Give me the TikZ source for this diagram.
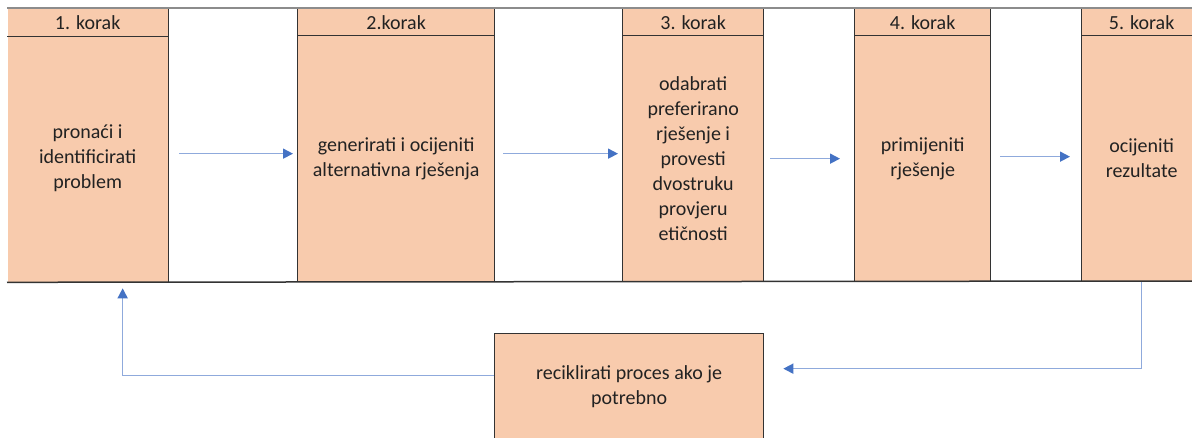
\documentclass[tikz,border=0pt]{standalone}
\usepackage{fontspec}
\setmainfont{Carlito}
\usetikzlibrary{arrows.meta}
\definecolor{peach}{HTML}{F8CBAD}
\definecolor{edge}{HTML}{333333}
\definecolor{topgray}{HTML}{8C8C8C}
\definecolor{lblue}{HTML}{8FAADC}
\definecolor{dblue}{HTML}{4472C4}
\definecolor{txt}{HTML}{222222}
\newcommand{\fs}{\fontsize{20}{25}\selectfont}
\tikzset{
  body/.style={draw=edge, line width=1.3pt, fill=peach, anchor=north west,
    minimum height=246pt, inner sep=0pt, align=center, font=\fs, text=txt},
  head/.style={draw=edge, line width=1.3pt, fill=peach, anchor=north west,
    minimum height=27pt, inner sep=0pt, font=\fs, text=txt},
  flow/.style={draw=lblue, line width=1.6pt,
    -{Triangle[length=10pt,width=10pt,color=dblue]}},
  recbox/.style={draw=edge, line width=1.3pt, fill=peach, anchor=north west,
    minimum width=269pt, minimum height=106pt, inner sep=0pt, align=center,
    font=\fs, text=txt},
}
\begin{document}
\begin{tikzpicture}[x=1pt,y=-1pt]
\clip (0,0) rectangle (1192,437);
\fill[white] (0,0) rectangle (1192,437);
% column 1 (no left border)
\node[body, draw=none, minimum width=160pt] (c1) at (7,35) {pronaći i\\identificirati\\problem};
\node[head, draw=none, minimum width=160pt] (c1h) at (7,8) {1. korak};
\draw[edge, line width=1.3pt] (c1h.south west) -- (c1h.south east);
\draw[edge, line width=1.3pt] (c1h.north east) -- (c1.south east);
% other columns
\node[body, minimum width=197pt] (c2) at (297,35) {generirati i ocijeniti\\alternativna rješenja};
\node[head, minimum width=197pt] (c2h) at (297,8) {2.korak};
\node[body, minimum width=141pt] (c3) at (622,35) {odabrati\\preferirano\\rješenje i\\provesti\\dvostruku\\provjeru\\etičnosti};
\node[head, minimum width=141pt] (c3h) at (622,8) {3. korak};
\node[body, minimum width=136pt] (c4) at (854,35) {primijeniti\\rješenje};
\node[head, minimum width=136pt] (c4h) at (854,8) {4. korak};
\node[body, minimum width=120pt] (c5) at (1081,35) {ocijeniti\\rezultate};
\node[head, minimum width=120pt] (c5h) at (1081,8) {5. korak};
% band lines
\draw[edge, line width=1.5pt] (c1.south west) -- (1192,281);
\draw[topgray, line width=2pt] (c1h.north west) -- (1192,8);
% bottom box
\node[recbox] (rec) at (494,333) {reciklirati proces ako je\\potrebno};
% flow arrows
\draw[flow, shorten <=11pt, shorten >=4pt] ([yshift=5pt]c1.east) -- ([yshift=5pt]c2.west);
\draw[flow, shorten <=8pt, shorten >=4pt] ([yshift=5pt]c2.east) -- ([yshift=5pt]c3.west);
\draw[flow, shorten <=6pt, shorten >=14pt] ([yshift=0pt]c3.east) -- ([yshift=0pt]c4.west);
\draw[flow, shorten <=9pt, shorten >=11pt] ([yshift=2pt]c4.east) -- ([yshift=2pt]c5.west);
% feedback loop
\draw[flow] (c5.south) |- ([xshift=19pt,yshift=18pt]rec.east);
\draw[flow, shorten >=6pt] ([yshift=11pt]rec.west) -| ([xshift=35pt]c1.south);
\end{tikzpicture}
\end{document}
